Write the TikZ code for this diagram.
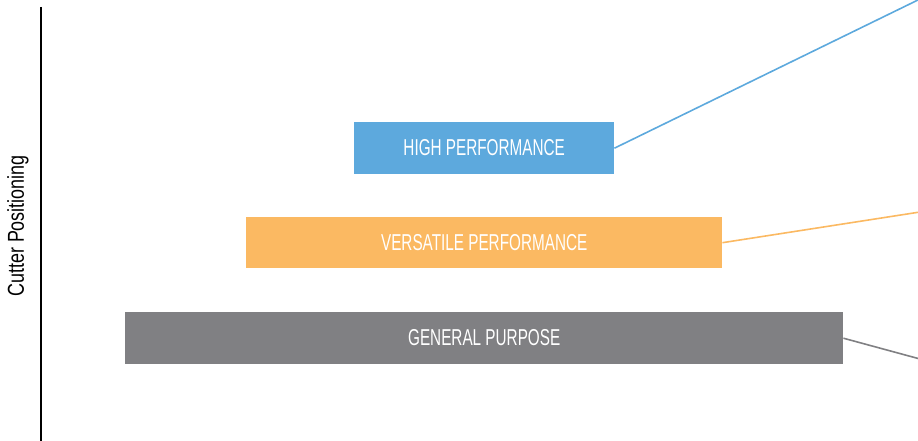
\documentclass[tikz,border=0pt]{standalone}
\usepackage{fontspec}
\setmainfont{Liberation Sans}[FakeStretch=0.665]
\newfontfamily\axisfont{Liberation Sans}[FakeStretch=0.78]
\definecolor{hpblue}{HTML}{5DA9DD}
\definecolor{vporange}{HTML}{FBB962}
\definecolor{gpgray}{HTML}{808083}
\begin{document}
\begin{tikzpicture}[x=1pt,y=-1pt,
  tier/.style={draw=none,inner sep=0pt,anchor=north west,text=white,
    text height=16.5pt,text depth=1pt,
    font=\fontsize{23}{26}\selectfont},
  lead/.style={line width=1.6pt}]
\useasboundingbox (0,0) rectangle (918,441);
\clip (0,0) rectangle (918,441);
% vertical axis and its label
\coordinate (axtop) at (41,7);
\coordinate (axbot) at (41,441);
\draw[line width=2pt] (axtop) -- (axbot);
\node[rotate=90,font=\axisfont\fontsize{23}{26}\selectfont] (axlabel) at (18,226) {Cutter Positioning};
% performance tiers
\node[tier,fill=hpblue,minimum width=260pt,minimum height=52pt] (high) at (354,122) {HIGH PERFORMANCE};
\node[tier,fill=vporange,minimum width=476pt,minimum height=51pt] (vers) at (246,217) {VERSATILE PERFORMANCE};
\node[tier,fill=gpgray,minimum width=718pt,minimum height=52pt] (gen) at (125,312) {GENERAL PURPOSE};
% leader lines
\coordinate (hend) at (920,-1);
\coordinate (vend) at (920,212);
\coordinate (gend) at (920,359);
\draw[lead,draw=hpblue] (high.east) -- (hend);
\draw[lead,draw=vporange] (vers.east) -- (vend);
\draw[lead,draw=gpgray] (gen.east) -- (gend);
\end{tikzpicture}
\end{document}
